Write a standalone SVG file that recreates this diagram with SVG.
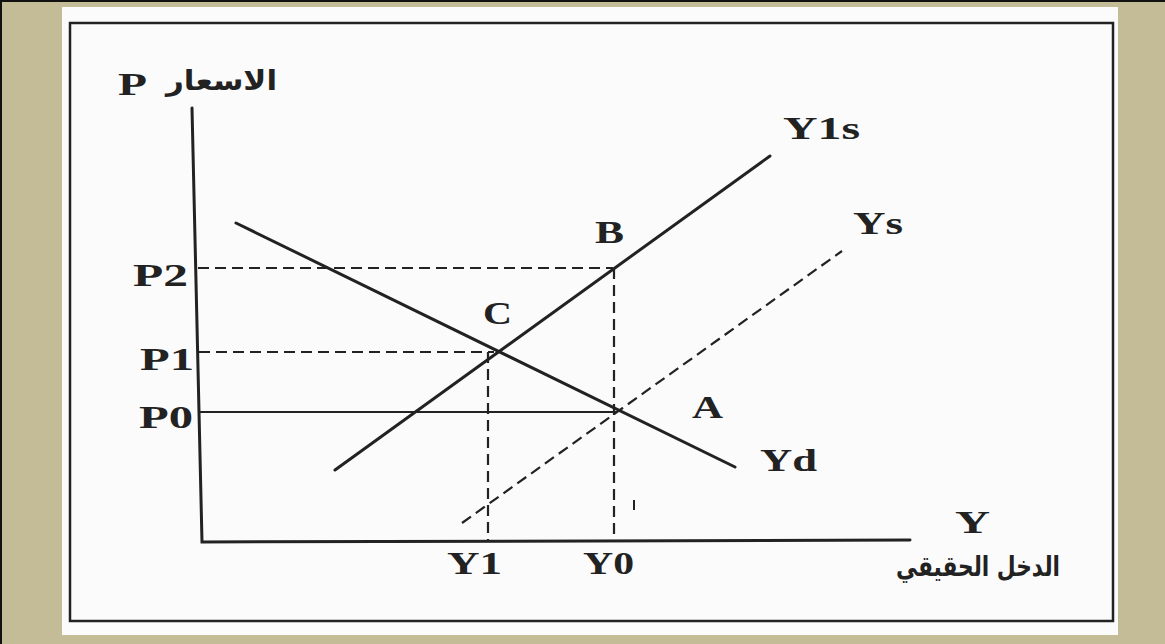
<svg xmlns="http://www.w3.org/2000/svg" width="1165" height="644" viewBox="0 0 1165 644">
<style>
.lbl{font-family:"Liberation Serif","Times New Roman",serif;font-weight:bold;font-size:32px;fill:#222}
.ar{font-family:"DejaVu Sans",sans-serif;font-weight:bold;font-size:28px;fill:#222}
.solid{stroke:#222;stroke-width:3;fill:none;stroke-linecap:round}
.thin{stroke:#222;stroke-width:2;fill:none}
.dash{stroke:#222;stroke-width:2.2;fill:none;stroke-dasharray:11 6}
</style>
<rect x="0" y="0" width="1165" height="644" fill="#c4bc97"/>
<path d="M0 1H1165M1 0V644" stroke="#111" stroke-width="2"/>
<rect x="62" y="7" width="1056" height="628" fill="#fbfbfb"/>
<rect x="70" y="23" width="1043" height="598" fill="none" stroke="#222" stroke-width="2.5"/>
<g id="axes">
<path class="solid" d="M192 108L202 542L910 540"/>
</g>
<g id="connectors">
<path id="yd" class="solid" d="M236 223L735 467"/>
<path id="y1s" class="solid" d="M335 470L770 156"/>
<path id="ys" class="dash" d="M462 523L842 251"/>
<path class="dash" d="M198 268H613"/>
<path class="dash" d="M199 352H494"/>
<path class="thin" d="M200 412H617"/>
<path class="dash" d="M488 352V540"/>
<path class="dash" d="M614 268V540"/>
<path class="thin" d="M634 500V510"/>
</g>
<g id="label-p">
<text class="lbl" x="118" y="95" textLength="29" lengthAdjust="spacingAndGlyphs">P</text>
<text class="ar" x="166" y="90" textLength="111" lengthAdjust="spacingAndGlyphs">الاسعار</text>
</g>
<g id="label-p2"><text class="lbl" x="133" y="286" textLength="55" lengthAdjust="spacingAndGlyphs">P2</text></g>
<g id="label-p1"><text class="lbl" x="140" y="370" textLength="54" lengthAdjust="spacingAndGlyphs">P1</text></g>
<g id="label-p0"><text class="lbl" x="139" y="428" textLength="54" lengthAdjust="spacingAndGlyphs">P0</text></g>
<g id="label-b"><text class="lbl" x="595" y="243" textLength="29" lengthAdjust="spacingAndGlyphs">B</text></g>
<g id="label-c"><text class="lbl" x="483" y="324" textLength="29" lengthAdjust="spacingAndGlyphs">C</text></g>
<g id="label-a"><text class="lbl" x="692" y="418" textLength="31" lengthAdjust="spacingAndGlyphs">A</text></g>
<g id="label-yd"><text class="lbl" x="760" y="471" textLength="57" lengthAdjust="spacingAndGlyphs">Yd</text></g>
<g id="label-ys"><text class="lbl" x="853" y="234" textLength="50" lengthAdjust="spacingAndGlyphs">Ys</text></g>
<g id="label-y1s"><text class="lbl" x="783" y="139" textLength="77" lengthAdjust="spacingAndGlyphs">Y1s</text></g>
<g id="label-y"><text class="lbl" x="955" y="533" textLength="35" lengthAdjust="spacingAndGlyphs">Y</text></g>
<g id="label-y1"><text class="lbl" x="447" y="574" textLength="55" lengthAdjust="spacingAndGlyphs">Y1</text></g>
<g id="label-y0"><text class="lbl" x="583" y="574" textLength="51" lengthAdjust="spacingAndGlyphs">Y0</text></g>
<g id="label-income"><text class="ar" x="896" y="576" textLength="164" lengthAdjust="spacingAndGlyphs">الدخل الحقيقي</text></g>
</svg>
